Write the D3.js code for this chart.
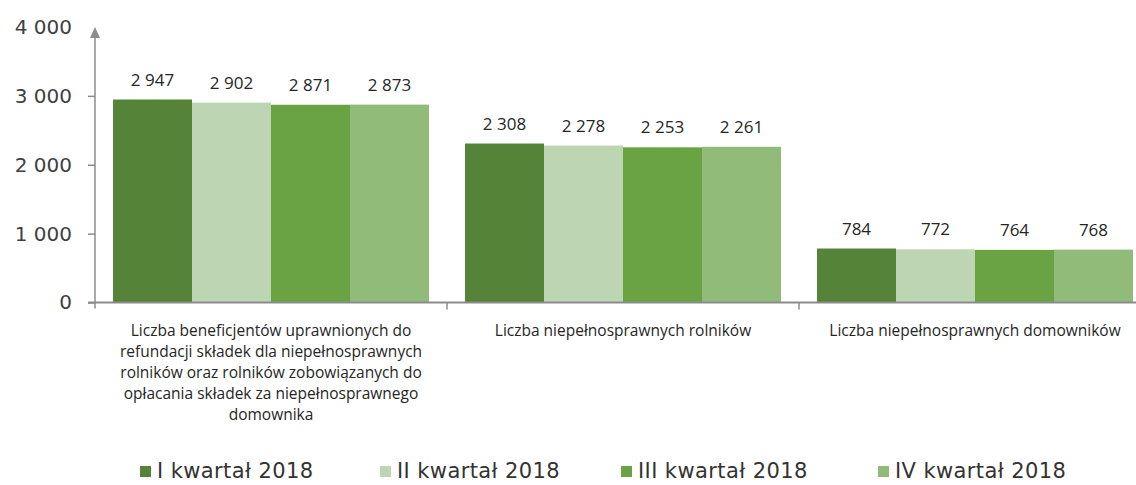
<!DOCTYPE html>
<html>
<head>
<meta charset="utf-8">
<script src="https://cdn.jsdelivr.net/npm/d3@7"></script>
<style>
  body { margin: 0; background: #fff; }
  svg { display: block; }
</style>
</head>
<body>
<div id="chart"></div>
<script>
// data
const categories = ["benef", "rolnicy", "domownicy"];
const categoryLines = [
    ["Liczba beneficjentów uprawnionych do",
     "refundacji składek dla niepełnosprawnych",
     "rolników oraz rolników zobowiązanych do",
     "opłacania składek za niepełnosprawnego",
     "domownika"],
    ["Liczba niepełnosprawnych rolników"],
    ["Liczba niepełnosprawnych domowników"]
];
const seriesNames = ["I kwartał 2018", "II kwartał 2018", "III kwartał 2018", "IV kwartał 2018"];
const q1 = [2947, 2308, 784];
const q2 = [2902, 2278, 772];
const q3 = [2871, 2253, 764];
const q4 = [2873, 2261, 768];
const yTicks = [0, 1000, 2000, 3000, 4000];
const colors = ["#558439", "#bed5b3", "#69a343", "#91bb79"];

const width = 1136, height = 485;
const seriesValues = [q1, q2, q3, q4];
const fmt = v => d3.format(",")(v).replace(/,/g, " ");

const svg = d3.select("#chart").append("svg")
    .attr("width", width)
    .attr("height", height);

const x0 = d3.scaleBand().domain(categories).range([95, 1151]).padding(0);
const x1 = d3.scaleBand().domain(seriesNames).range([0, x0.bandwidth()]).paddingInner(0).paddingOuter(0.228);
const y = d3.scaleLinear().domain([0, 4000]).range([302.5, 27]);

// bars
const groups = svg.selectAll(".grp")
    .data(categories)
    .join("g")
    .attr("class", "grp")
    .attr("transform", c => "translate(" + x0(c) + ",0)");

groups.selectAll("rect")
    .data((c, i) => seriesNames.map((s, j) => ({s: s, j: j, v: seriesValues[j][i]})))
    .join("rect")
    .attr("x", d => x1(d.s))
    .attr("width", x1.bandwidth())
    .attr("y", d => y(d.v))
    .attr("height", d => y(0) - y(d.v))
    .attr("fill", d => colors[d.j]);

groups.selectAll(".val")
    .data((c, i) => seriesNames.map((s, j) => ({s: s, j: j, v: seriesValues[j][i]})))
    .join("text")
    .attr("class", "val")
    .attr("x", d => x1(d.s) + x1.bandwidth() / 2)
    .attr("y", d => y(d.v) - 14)
    .attr("text-anchor", "middle")
    .attr("font-family", "Open Sans")
    .attr("font-size", 17)
    .attr("fill", "#262626")
    .text(d => fmt(d.v));

// y axis
const yAxis = svg.append("g")
    .attr("transform", "translate(95,0)")
    .call(d3.axisLeft(y).tickValues(yTicks).tickSize(7).tickPadding(16).tickFormat(fmt));
yAxis.select(".domain").remove();
yAxis.selectAll(".tick line").attr("stroke", "#8c8c8c").attr("stroke-width", 1.5);
yAxis.selectAll(".tick").filter(d => d === 4000).select("line").remove();
yAxis.selectAll("text")
    .attr("font-family", "DejaVu Sans")
    .attr("font-size", 20)
    .attr("fill", "#404040");

svg.append("line")
    .attr("x1", 95).attr("x2", 95)
    .attr("y1", y(4000) + 8).attr("y2", y(0) + 6)
    .attr("stroke", "#8c8c8c").attr("stroke-width", 1.5);
svg.append("path")
    .attr("d", "M" + 95 + "," + y(4000) + " l-5,11 l10,0 z")
    .attr("fill", "#8c8c8c");

// x axis
svg.append("line")
    .attr("x1", 88).attr("x2", width)
    .attr("y1", y(0)).attr("y2", y(0))
    .attr("stroke", "#8c8c8c").attr("stroke-width", 2);

svg.selectAll(".ctick")
    .data(categories.slice(1))
    .join("line")
    .attr("class", "ctick")
    .attr("x1", c => x0(c)).attr("x2", c => x0(c))
    .attr("y1", y(0)).attr("y2", y(0) + 7)
    .attr("stroke", "#8c8c8c").attr("stroke-width", 1.5);

const catLabels = svg.selectAll(".cat")
    .data(categories)
    .join("text")
    .attr("class", "cat")
    .attr("text-anchor", "middle")
    .attr("font-family", "Open Sans")
    .attr("font-size", 15.5)
    .attr("fill", "#262626");

catLabels.selectAll("tspan")
    .data((c, i) => categoryLines[i].map(t => ({c: c, t: t})))
    .join("tspan")
    .attr("x", d => x0(d.c) + x0.bandwidth() / 2)
    .attr("y", (d, k) => 336 + k * 21)
    .text(d => d.t);

// legend
const legendX = [140, 380, 621, 878];
const legend = svg.selectAll(".leg")
    .data(seriesNames)
    .join("g")
    .attr("class", "leg")
    .attr("transform", (d, i) => "translate(" + legendX[i] + ",0)");

legend.append("rect")
    .attr("x", 0).attr("y", 466)
    .attr("width", 11).attr("height", 11)
    .attr("fill", (d, i) => colors[i]);

legend.append("text")
    .attr("x", 17).attr("y", 478)
    .attr("font-family", "DejaVu Sans")
    .attr("font-size", 21)
    .attr("letter-spacing", 0.4)
    .attr("fill", "#333")
    .text(d => d);
</script>
</body>
</html>
